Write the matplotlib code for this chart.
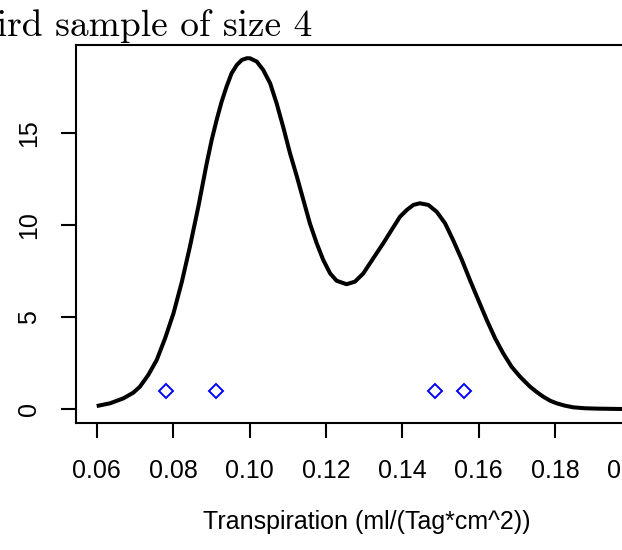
import matplotlib

matplotlib.use("Agg")
import matplotlib.pyplot as plt

# density curve
curve_x = [0.0600, 0.0635, 0.0670, 0.0696, 0.0713, 0.0735, 0.0757, 0.0779, 0.0801,
           0.0823, 0.0844, 0.0866, 0.0888, 0.0901, 0.0914, 0.0927, 0.0940, 0.0953,
           0.0967, 0.0980, 0.0993, 0.1001, 0.1019, 0.1036, 0.1054, 0.1071, 0.1088,
           0.1106, 0.1124, 0.1141, 0.1158, 0.1176, 0.1193, 0.1211, 0.1228, 0.1254,
           0.1276, 0.1298, 0.1324, 0.1350, 0.1372, 0.1394, 0.1412, 0.1429, 0.1446,
           0.1468, 0.1490, 0.1512, 0.1533, 0.1556, 0.1577, 0.1599, 0.1621, 0.1643,
           0.1664, 0.1686, 0.1708, 0.1734, 0.1752, 0.1769, 0.1787, 0.1804, 0.1826,
           0.1848, 0.1878, 0.1909, 0.1974, 0.2000]
curve_y = [0.16, 0.31, 0.58, 0.89, 1.21, 1.85, 2.66, 3.84, 5.20,
           6.92, 8.82, 10.99, 13.35, 14.62, 15.71, 16.70, 17.52, 18.24,
           18.70, 18.97, 19.06, 19.06, 18.88, 18.42, 17.70, 16.61, 15.34,
           13.90, 12.63, 11.36, 10.09, 9.00, 8.10, 7.37, 6.97, 6.78,
           6.92, 7.37, 8.19, 9.00, 9.73, 10.45, 10.82, 11.09, 11.18,
           11.09, 10.72, 10.09, 9.18, 8.10, 7.01, 5.92, 4.84, 3.84,
           3.03, 2.30, 1.76, 1.22, 0.92, 0.67, 0.45, 0.31, 0.18,
           0.09, 0.04, 0.02, 0.0, 0.0]

# the sample of size 4
sample_x = [0.0781, 0.0913, 0.1486, 0.1562]
sample_y = [1, 1, 1, 1]

x_ticks = [0.06, 0.08, 0.10, 0.12, 0.14, 0.16, 0.18, 0.20]
y_ticks = [0, 5, 10, 15]

W, H = 622, 550
fig = plt.figure(figsize=(W / 100, H / 100), dpi=100)
left, right, top, bottom = 75.7, 652.5, 45, 423
ax = fig.add_axes([left / W, 1 - bottom / H, (right - left) / W, (bottom - top) / H])

ax.plot(curve_x, curve_y, color="black", lw=2.9, solid_capstyle="butt")
ax.plot(sample_x, sample_y, linestyle="", marker="D", ms=7.5, mfc="none",
        mec="blue", mew=1.4)

ax.set_xlim(0.0545, 0.2055)
ax.set_ylim(-0.761, 19.78)
ax.set_xticks(x_ticks)
ax.set_xticklabels([f"{t:.2f}" for t in x_ticks])
ax.set_yticks(y_ticks)
ax.set_yticklabels([str(t) for t in y_ticks], rotation=90, va="center")

for spine in ax.spines.values():
    spine.set_linewidth(1.5)
ax.tick_params(length=11, width=1.5, labelsize=18, colors="black")
ax.tick_params(axis="x", pad=15)
ax.tick_params(axis="y", pad=14)
for lab in ax.get_xticklabels() + ax.get_yticklabels():
    lab.set_family("Liberation Sans")

fig.text(367 / W, 1 - 522 / H, "Transpiration (ml/(Tag*cm^2))",
         family="Liberation Sans", fontsize=18, ha="center", va="center")
fig.text(312 / W, 1 - 36 / H, "Third sample of size 4", family="cmr10",
         fontsize=27, ha="right", va="baseline")

fig.savefig("out.png", dpi=100)
